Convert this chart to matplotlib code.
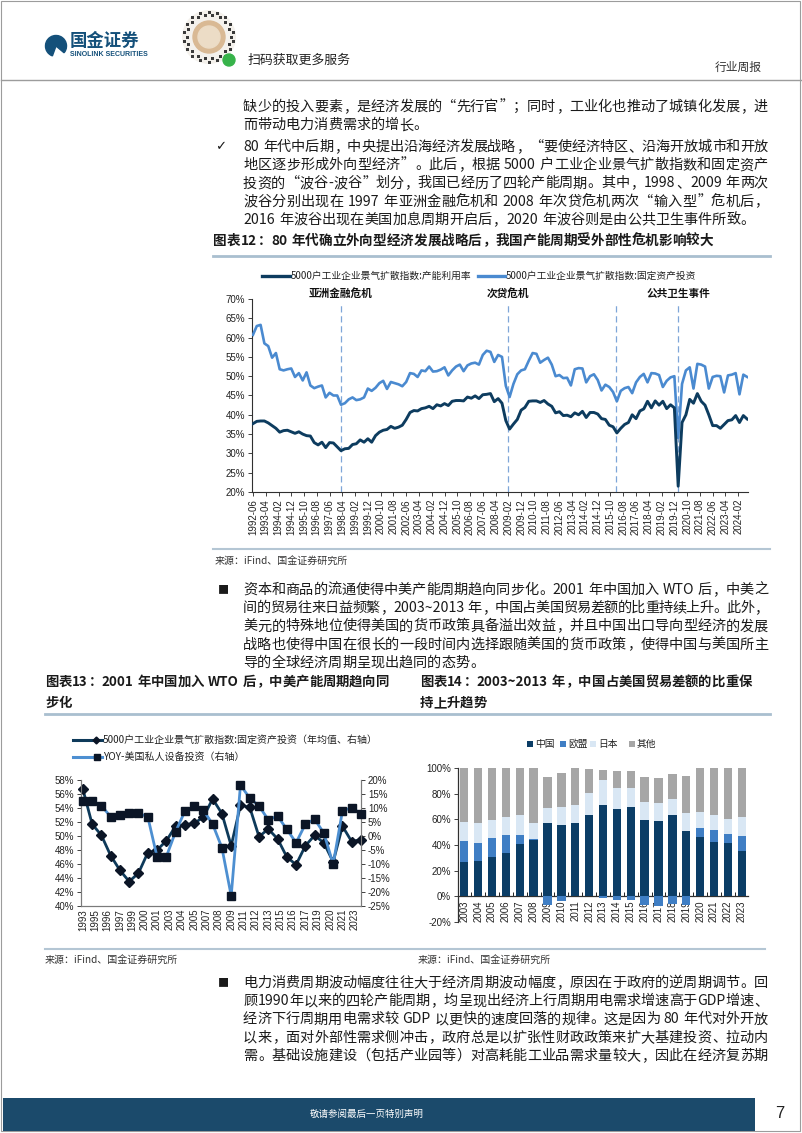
import re
import numpy as np
import pandas as pd
import matplotlib
matplotlib.use('Agg')
import matplotlib.pyplot as plt
from matplotlib.lines import Line2D
from matplotlib.patches import Rectangle, Circle, Wedge
from matplotlib.transforms import Affine2D

# ---------------- data ----------------
# Chart 12: quarterly, from 1992-06
cap_util = [
    37.7, 38.3, 38.4, 38.4, 37.9, 37.2, 36.5, 35.5, 35.9, 36.0,
    35.6, 35.2, 35.6, 35.0, 34.6, 34.5, 32.8, 32.2, 32.9, 31.5,
    32.8, 32.7, 31.7, 30.7, 31.2, 31.3, 32.3, 32.5, 33.5, 32.9,
    33.8, 32.9, 34.6, 35.5, 36.0, 36.2, 37.0, 36.5, 36.8, 37.3,
    38.8, 40.6, 41.1, 41.0, 41.6, 41.8, 42.2, 41.6, 42.6, 42.3,
    42.9, 42.4, 43.5, 43.7, 43.7, 43.6, 44.6, 44.3, 44.9, 44.2,
    45.2, 45.3, 45.5, 43.4, 44.2, 43.0, 38.5, 36.3, 37.6, 38.8,
    41.2, 41.9, 43.5, 43.6, 43.6, 43.2, 43.7, 42.8, 42.2, 40.5,
    40.8, 39.8, 39.9, 39.5, 40.5, 40.0, 40.9, 39.3, 40.6, 40.6,
    40.2, 39.0, 38.8, 37.3, 36.9, 35.3, 36.5, 37.5, 38.0, 40.0,
    39.0, 41.0, 41.5, 43.5, 41.8, 43.6, 42.5, 43.5, 41.6, 42.6,
    41.8, 21.5, 38.0, 40.0, 44.0, 43.0, 45.5, 43.5, 42.5, 40.0,
    37.2, 37.2, 36.5, 37.5, 38.5, 38.7, 39.8, 38.0, 39.8, 38.9]
fixed_inv = [
    60.7, 63.0, 63.3, 58.5, 57.8, 54.8, 56.0, 51.8, 51.5, 51.8,
    52.0, 49.8, 50.8, 48.9, 51.0, 47.6, 46.9, 47.3, 47.6, 44.5,
    45.7, 45.0, 45.0, 42.6, 43.0, 44.0, 44.5, 43.8, 44.0, 44.5,
    46.8, 46.2, 47.0, 48.2, 48.8, 46.7, 48.5, 48.2, 47.9, 47.4,
    48.5, 50.8, 50.6, 49.8, 51.5, 51.3, 52.5, 51.2, 51.3, 51.7,
    52.3, 50.2, 51.5, 52.5, 53.0, 51.3, 52.8, 53.3, 53.5, 53.0,
    55.5, 56.6, 56.3, 53.7, 55.5, 55.0, 47.5, 44.6, 48.0, 50.5,
    51.5, 51.8, 54.0, 56.0, 55.8, 53.5, 54.2, 54.8, 53.0, 50.0,
    50.3, 49.5, 49.6, 47.6, 51.8, 52.1, 52.0, 48.4, 50.0, 50.5,
    49.0, 46.3, 47.8, 47.2, 45.9, 43.5, 46.2, 46.9, 47.2, 45.6,
    48.4, 49.8, 50.6, 48.4, 50.8, 50.7, 50.3, 47.2, 48.8, 49.7,
    50.0, 34.0, 48.0, 51.5, 52.3, 46.8, 53.2, 53.0, 52.5, 46.8,
    49.8, 50.1, 50.0, 45.8, 50.2, 50.4, 50.8, 45.3, 50.4, 49.8]
x_labels_12 = ['1992-06', '1993-04', '1994-02', '1994-12', '1995-10', '1996-08',
               '1997-06', '1998-04', '1999-02', '1999-12', '2000-10', '2001-08',
               '2002-06', '2003-04', '2004-02', '2004-12', '2005-10', '2006-08',
               '2007-06', '2008-04', '2009-02', '2009-12', '2010-10', '2011-08',
               '2012-06', '2013-04', '2014-02', '2014-12', '2015-10', '2016-08',
               '2017-06', '2018-04', '2019-02', '2019-12', '2020-10', '2021-08',
               '2022-06', '2023-04', '2024-02']
crisis_dates = ['1998-03', '2009-02', '2016-02', '2020-03']
crisis_labels = ['亚洲金融危机', '次贷危机', '', '公共卫生事件']
series_12 = ['5000户工业企业景气扩散指数:产能利用率', '5000户工业企业景气扩散指数:固定资产投资']

# Chart 13: annual 1993-2023
years_13 = list(range(1993, 2024))
fai_avg = [56.7, 51.7, 50.1, 47.2, 45.1, 43.5, 44.7, 47.6, 48.0, 49.3,
           51.4, 51.6, 51.8, 52.7, 55.3, 53.2, 48.6, 54.4, 54.1, 49.9,
           51.0, 49.6, 47.0, 45.9, 48.6, 50.1, 49.0, 46.3, 51.4, 49.2, 49.5]
us_equip_yoy = [12.4, 12.6, 10.8, 6.9, 7.5, 8.1, 8.1, 6.9, -7.4, -7.4,
                1.5, 8.8, 10.7, 9.2, 4.2, -4.2, -21.4, 18.2, 13.5, 10.7,
                5.8, 7.1, 2.4, -2.4, 4.2, 6.0, 1.0, -10.1, 9.0, 10.1, 8.0]
x_labels_13 = ['1993', '1995', '1996', '1997', '1999', '2000', '2001', '2003',
               '2004', '2005', '2007', '2008', '2009', '2011', '2012', '2013',
               '2015', '2016', '2017', '2019', '2020', '2021', '2023']
series_13 = ['5000户工业企业景气扩散指数:固定资产投资（年均值、右轴）', 'YOY-美国私人设备投资（右轴）']

# Chart 14: share of US trade balance, 2003-2023
years_14 = [str(y) for y in range(2003, 2024)]
china = [26.5, 27.8, 30.4, 34.0, 41.0, 43.6, 57.4, 55.5, 57.4, 63.0, 71.0,
         68.0, 70.0, 59.7, 59.0, 63.4, 51.0, 46.3, 42.3, 41.3, 35.0]
eu = [17.0, 14.0, 15.1, 13.5, 6.5, 0.8, -7.0, -4.0, 0.0, 0.0, -1.5,
      -2.5, -2.5, -7.0, -7.5, -6.0, -7.0, 6.9, 9.7, 7.5, 11.8]
japan = [14.5, 15.2, 14.0, 14.5, 15.9, 12.7, 11.1, 14.1, 13.6, 17.3, 19.4,
         16.6, 14.6, 13.8, 13.5, 12.6, 13.7, 12.3, 11.4, 11.7, 14.7]
other = [42.0, 43.0, 40.5, 38.0, 36.6, 42.9, 24.5, 26.8, 29.0, 19.2, 8.3,
         13.1, 12.8, 19.5, 20.0, 19.5, 29.1, 34.5, 36.6, 39.5, 38.5]
series_14 = ['中国', '欧盟', '日本', '其他']

# ---------------- text ----------------
para1 = ['缺少的投入要素，是经济发展的“先行官”；同时，工业化也推动了城镇化发展，进',
         '而带动电力消费需求的增长。']
para_check = ['80 年代中后期，中央提出沿海经济发展战略，“要使经济特区、沿海开放城市和开放',
              '地区逐步形成外向型经济”。此后，根据 5000 户工业企业景气扩散指数和固定资产',
              '投资的“波谷-波谷”划分，我国已经历了四轮产能周期。其中，1998、2009 年两次',
              '波谷分别出现在 1997 年亚洲金融危机和 2008 年次贷危机两次“输入型”危机后，',
              '2016 年波谷出现在美国加息周期开启后，2020 年波谷则是由公共卫生事件所致。']
title12 = '图表12：80 年代确立外向型经济发展战略后，我国产能周期受外部性危机影响较大'
para2 = ['资本和商品的流通使得中美产能周期趋向同步化。2001 年中国加入 WTO 后，中美之',
         '间的贸易往来日益频繁，2003~2013 年，中国占美国贸易差额的比重持续上升。此外，',
         '美元的特殊地位使得美国的货币政策具备溢出效益，并且中国出口导向型经济的发展',
         '战略也使得中国在很长的一段时间内选择跟随美国的货币政策，使得中国与美国所主',
         '导的全球经济周期呈现出趋同的态势。']
title13 = ['图表13：2001 年中国加入 WTO 后，中美产能周期趋向同', '步化']
title14 = ['图表14：2003~2013 年，中国占美国贸易差额的比重保', '持上升趋势']
para3 = ['电力消费周期波动幅度往往大于经济周期波动幅度，原因在于政府的逆周期调节。回',
         '顾1990年以来的四轮产能周期，均呈现出经济上行周期用电需求增速高于GDP增速、',
         '经济下行周期用电需求较 GDP 以更快的速度回落的规律。这是因为 80 年代对外开放',
         '以来，面对外部性需求侧冲击，政府总是以扩张性财政政策来扩大基建投资、拉动内',
         '需。基础设施建设（包括产业园等）对高耗能工业品需求量较大，因此在经济复苏期']
source = '来源：iFind、国金证券研究所'

# ---------------- setup ----------------
W, H = 802, 1133
CJK = ['Noto Sans CJK SC', 'DejaVu Sans']
LAT = ['Liberation Sans', 'DejaVu Sans']
plt.rcParams['font.family'] = CJK
plt.rcParams['axes.unicode_minus'] = False

NAVY = '#0d3c5f'
LIGHT = '#4a8ad0'
TXT = '#1a1a1a'

fig = plt.figure(figsize=(W / 100, H / 100), dpi=100)
fig.patch.set_facecolor('white')
renderer = fig.canvas.get_renderer()
PX = Affine2D().scale(1, -1).translate(0, H)   # pixel coords, origin top-left


def rect(l, t, r, b):
    return [l / W, 1 - b / H, (r - l) / W, (b - t) / H]


def txt(x, y, s, size=10.2, **kw):
    kw.setdefault('va', 'center')
    kw.setdefault('ha', 'left')
    kw.setdefault('color', TXT)
    return fig.text(x, y, s, fontsize=size, transform=PX, **kw)


def hline(x0, x1, y, color, lw):
    fig.add_artist(Line2D([x0, x1], [y, y], transform=PX, color=color, lw=lw))


LEFT_PUNCT = set('，。、；：”）')
RIGHT_PUNCT = set('“（')


def text_line(x0, y, s, x1=None, size=10.2, **kw):
    em = size * 100 / 72
    tokens = re.findall(r'[A-Za-z0-9\.\-~%]+| +|.', s)
    items = []
    for tok in tokens:
        if tok.strip() == '':
            items.append((None, 0.25 * em * len(tok), tok))
        elif re.match(r'[A-Za-z0-9\.\-~%]', tok):
            t = fig.text(0, y, tok, fontsize=size, transform=PX, va='center',
                         ha='left', color=kw.get('color', TXT),
                         fontweight=kw.get('fontweight', 'normal'))
            w = t.get_window_extent(renderer).width + 0.06 * em
            items.append((t, w, 'lat'))
        else:
            items.append((tok, em, 'cjk'))
    total = sum(w for _, w, _ in items)
    gap = 0.0
    if x1 is not None and len(items) > 1:
        gap = (x1 - x0 - total) / (len(items) - 1)
    x = x0
    for a, w, kind in items:
        if kind == 'lat':
            a.set_x(x + 0.03 * em)
        elif kind == 'cjk':
            if a in LEFT_PUNCT:
                txt(x + 0.05 * em, y, a, size=size, ha='left', **kw)
            elif a in RIGHT_PUNCT:
                txt(x + 0.95 * em, y, a, size=size, ha='right', **kw)
            else:
                txt(x + 0.5 * em, y, a, size=size, ha='center', **kw)
        x += w + gap


def paragraph(lines, x0, y0, step, x1, last_full=False):
    for i, ln in enumerate(lines):
        full = (i < len(lines) - 1) or last_full
        text_line(x0, y0 + i * step, ln, x1 if full else None)


# ---------------- page frame / header / footer ----------------
fig.add_artist(Rectangle((1, 1), 799, 1130, transform=PX, fill=False,
                         edgecolor='#9c9c9c', lw=0.8))
hline(1, 801, 80, '#9c9c9c', 1.0)

LOGO = '#14507a'
fig.add_artist(Wedge((56, 46), 10.5, 110, 40, transform=PX, color=LOGO))
txt(70, 41, '国金证券', size=12.5, fontweight='bold', color=LOGO)
txt(70, 55, 'SINOLINK SECURITIES', size=5.0, fontweight='bold', color=LOGO, family=LAT)

# mini program code badge
fig.add_artist(Circle((209, 37), 27, transform=PX, facecolor='#f4f1ec', edgecolor='none'))
for k, ang in enumerate(np.linspace(0, 2 * np.pi, 36, endpoint=False)):
    r = 22 if k % 2 == 0 else 25
    fig.add_artist(Rectangle((209 + r * np.cos(ang) - 1.5, 37 + r * np.sin(ang) - 1.5), 3, 3,
                             transform=PX, color='#3a3a3a', lw=0))
fig.add_artist(Circle((209, 37), 16, transform=PX, color='#d9b994'))
fig.add_artist(Circle((209, 37), 11, transform=PX, color='#ecdcc6'))
fig.add_artist(Circle((229, 60), 6, transform=PX, color='#37b34a'))
txt(248, 60, '扫码获取更多服务', size=9.3, color='#222222')
txt(762, 67, '行业周报', size=8.5, ha='right', color='#333333')

fig.add_artist(Rectangle((3, 1098), 752, 33, transform=PX, color='#1b4a6b', lw=0))
txt(367, 1114, '敬请参阅最后一页特别声明', size=6.8, ha='center', color='white')
txt(780, 1114, '7', size=12, ha='center', color='#222222', family=LAT)

# ---------------- body text ----------------
X0, X1 = 243, 768
LS = 18.2
paragraph(para1, X0, 107, LS, X1)
txt(215, 147, '✓', size=9.5, family=['DejaVu Sans'])
paragraph(para_check, X0, 147, LS, X1)
text_line(213, 241, title12, None, size=9.8, fontweight='bold')
hline(213, 770, 256, '#a9bfcf', 2.0)

txt(218, 590, '■', size=8)
paragraph(para2, X0, 590, LS, X1)
text_line(45, 682, title13[0], None, size=9.6, fontweight='bold')
text_line(45, 703, title13[1], None, size=9.6, fontweight='bold')
text_line(420, 682, title14[0], None, size=9.6, fontweight='bold')
text_line(420, 703, title14[1], None, size=9.6, fontweight='bold')
hline(45, 770, 714, '#a9bfcf', 2.0)

txt(218, 983, '■', size=8)
paragraph(para3, X0, 983, LS, X1, last_full=True)

hline(213, 770, 549, '#b4c6d4', 1.5)
txt(215, 562, source, size=7.2, color='#333333')
hline(45, 765, 949, '#b4c6d4', 1.5)
txt(45, 961, source, size=7.2, color='#333333')
txt(418, 961, source, size=7.2, color='#333333')

# ---------------- chart 12 ----------------
ax1 = fig.add_axes(rect(252, 299, 748, 492))
dates = pd.date_range('1992-06-01', periods=len(cap_util), freq='3MS')
ax1.plot(dates, fixed_inv, color=LIGHT, lw=1.9, zorder=3)
ax1.plot(dates, cap_util, color=NAVY, lw=2.1, zorder=4)
ax1.set_ylim(20, 70)
ax1.set_yticks(np.arange(20, 71, 5))
ax1.set_yticklabels([f'{v}%' for v in range(20, 71, 5)], fontsize=7, family=LAT)
ax1.set_xlim(pd.Timestamp('1992-05-10'), pd.Timestamp('2024-09-20'))
xt = pd.to_datetime(x_labels_12, format='%Y-%m')
ax1.set_xticks(xt)
ax1.set_xticklabels(x_labels_12, rotation=90, fontsize=7, family=LAT)
for s in ['top', 'right']:
    ax1.spines[s].set_visible(False)
for s in ['left', 'bottom']:
    ax1.spines[s].set_color('#303030')
    ax1.spines[s].set_linewidth(0.8)
ax1.tick_params(length=3, width=0.6, pad=2, colors='#222222')
for d, lab in zip(crisis_dates, crisis_labels):
    dd = pd.Timestamp(d)
    ax1.axvline(dd, ymin=0, ymax=0.975, color='#7ea6d8', lw=0.9, ls=(0, (5, 3)), zorder=2)
    if lab:
        ax1.text(dd, 71.4, lab, ha='center', va='center', fontsize=7.7,
                 fontweight='bold', color='#111111', clip_on=False)
fig.add_artist(Line2D([262, 290], [276, 276], transform=PX, color=NAVY, lw=2.4))
txt(291, 276, series_12[0], size=7, color='#222222')
fig.add_artist(Line2D([478, 505], [276, 276], transform=PX, color=LIGHT, lw=2.4))
txt(506, 276, series_12[1], size=7, color='#222222')

# ---------------- chart 13 ----------------
ax2 = fig.add_axes(rect(81, 780, 361, 906))
ax2.plot(years_13, fai_avg, color='#0e3a5a', lw=2.0, marker='D', ms=5.5,
         mfc='#0b1526', mec='#0b1526', zorder=3, clip_on=False)
ax2.set_ylim(40, 58)
ax2.set_yticks(np.arange(40, 59, 2))
ax2.set_yticklabels([f'{v}%' for v in range(40, 59, 2)], fontsize=7, family=LAT)
ax2.set_xlim(1992.8, 2023.0)
ax2.set_xticks([1993 + k * 4 / 3 for k in range(len(x_labels_13))])
ax2.set_xticklabels(x_labels_13, rotation=90, fontsize=7, family=LAT)
ax2b = ax2.twinx()
ax2b.plot(years_13, us_equip_yoy, color='#4d8fd1', lw=2.0, marker='s', ms=5.5,
          mfc='#0b1526', mec='#0b1526', zorder=3, clip_on=False)
ax2b.set_ylim(-25, 20)
ax2b.set_yticks(np.arange(-25, 21, 5))
ax2b.set_yticklabels([f'{v}%' for v in range(-25, 21, 5)], fontsize=7, family=LAT)
for a in (ax2, ax2b):
    a.spines['top'].set_visible(False)
    for s in ['left', 'right', 'bottom']:
        a.spines[s].set_color('#7a7a7a')
        a.spines[s].set_linewidth(0.8)
    a.tick_params(length=3, width=0.6, pad=2, colors='#222222')
ax2.tick_params(axis='x', length=0)
fig.add_artist(Line2D([73, 102], [740, 740], transform=PX, color='#0e3a5a', lw=2.2))
fig.add_artist(Line2D([96], [740], transform=PX, marker='D', ms=3.5, color='#0b1526', lw=0))
txt(103, 740, series_13[0], size=7.2, color='#222222')
fig.add_artist(Line2D([73, 102], [757, 757], transform=PX, color='#4d8fd1', lw=2.2))
fig.add_artist(Line2D([97], [757], transform=PX, marker='s', ms=4, color='#0b1526', lw=0))
txt(103, 757, series_13[1], size=7.2, color='#222222')

# ---------------- chart 14 ----------------
ax3 = fig.add_axes(rect(458, 768, 748, 922))
ax3.spines['bottom'].set_position(('data', 0))
idx = np.arange(len(years_14))
c = np.array(china)
e = np.array(eu)
j = np.array(japan)
o = np.array(other)
e_pos = np.clip(e, 0, None)
e_neg = np.clip(e, None, 0)
cols14 = ['#0b3d66', '#3f7ec4', '#d9e7f4', '#a6a6a6']
bw = 0.6
ax3.bar(idx, c, bw, color=cols14[0], zorder=3)
ax3.bar(idx, e_pos, bw, bottom=c, color=cols14[1], zorder=3)
ax3.bar(idx, e_neg, bw, color=cols14[1], zorder=3)
ax3.bar(idx, j, bw, bottom=c + e_pos, color=cols14[2], zorder=3)
ax3.bar(idx, o, bw, bottom=c + e_pos + j, color=cols14[3], zorder=3)
ax3.set_ylim(-20, 100)
ax3.set_xlim(-0.45, 20.45)
ax3.set_yticks(np.arange(-20, 101, 20))
ax3.set_yticklabels([f'{v}%' for v in range(-20, 101, 20)], fontsize=7, family=LAT)
ax3.set_xticks(idx)
ax3.set_xticklabels(years_14, rotation=90, fontsize=7, family=LAT, va='top')
ax3.set_xticks(idx[:-1] + 0.5, minor=True)
ax3.spines['top'].set_visible(False)
ax3.spines['right'].set_visible(False)
for s in ['left', 'bottom']:
    ax3.spines[s].set_color('#303030')
    ax3.spines[s].set_linewidth(0.9)
ax3.tick_params(axis='y', length=3, width=0.6, pad=2, colors='#222222')
ax3.tick_params(axis='x', which='major', length=0, pad=3, colors='#222222')
ax3.tick_params(axis='x', which='minor', length=3, direction='in', width=0.6)
leg_x = [527, 560, 590, 629]
for lx, lab, col in zip(leg_x, series_14, cols14):
    fig.add_artist(Rectangle((lx, 741), 5.5, 5.5, transform=PX, color=col, lw=0))
    txt(lx + 8, 744, lab, size=7, color='#222222')

fig.savefig('out.png', dpi=100, facecolor='white')
